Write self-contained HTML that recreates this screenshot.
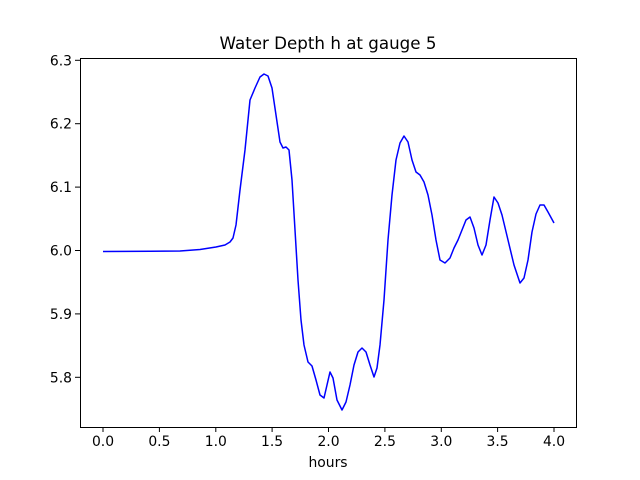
<!DOCTYPE html>
<html><head><meta charset="utf-8"><style>body{margin:0;background:#fff}svg{display:block}text{font-family:"DejaVu Sans","Liberation Sans",sans-serif;fill:#000}</style></head>
<body>
<svg width="640" height="480" viewBox="0 0 640 480" xmlns="http://www.w3.org/2000/svg">
<rect width="640" height="480" fill="#fff"/>
<polyline fill="none" stroke="#0000ff" stroke-width="1.5" stroke-linejoin="round" points="103,251.5 150,251.3 180,251 200,249.5 216,247 225,245 230,242 233,238 236,225 240,190 245,150 250,100 255,88 260,77 264,74 268,76 272,88 276,115 280,142 283,148 286,147 289,150 292,180 295,230 298,280 301,320 304,345 308,362 312,366 316,380 320,395 324,398 327,385 330,372 333,378 337,400 342,410 346,402 350,385 354,365 358,352 362,348 366,352 370,365 374,377 377,368 380,345 384,300 388,240 392,195 396,160 400,143 404,136 408,142 412,160 416,172 420,175 424,182 428,195 432,215 436,240 440,260 445,263 450,258 454,248 458,240 462,230 466,220 470,217 474,228 478,245 482,255 486,245 490,220 494,197 498,203 502,215 508,240 514,265 520,283 524,278 528,260 532,232 536,214 540,205 544,205 548,212 554,223"/>
<rect x="80.5" y="58.5" width="496" height="369" fill="none" stroke="#000" stroke-width="1"/>
<g stroke="#000" stroke-width="1">
<line x1="103" y1="427" x2="103" y2="432"/><line x1="159.4" y1="427" x2="159.4" y2="432"/><line x1="215.8" y1="427" x2="215.8" y2="432"/><line x1="272.1" y1="427" x2="272.1" y2="432"/><line x1="328.5" y1="427" x2="328.5" y2="432"/><line x1="384.9" y1="427" x2="384.9" y2="432"/><line x1="441.3" y1="427" x2="441.3" y2="432"/><line x1="497.6" y1="427" x2="497.6" y2="432"/><line x1="554" y1="427" x2="554" y2="432"/>
<line x1="75" y1="60.3" x2="80" y2="60.3"/><line x1="75" y1="123.7" x2="80" y2="123.7"/><line x1="75" y1="187.1" x2="80" y2="187.1"/><line x1="75" y1="250.5" x2="80" y2="250.5"/><line x1="75" y1="313.9" x2="80" y2="313.9"/><line x1="75" y1="377.3" x2="80" y2="377.3"/>
</g>
<g font-size="13.9" text-anchor="middle">
<text x="103" y="446">0.0</text><text x="159.4" y="446">0.5</text><text x="215.8" y="446">1.0</text><text x="272.1" y="446">1.5</text><text x="328.5" y="446">2.0</text><text x="384.9" y="446">2.5</text><text x="441.3" y="446">3.0</text><text x="497.6" y="446">3.5</text><text x="554" y="446">4.0</text>
<text x="328" y="467">hours</text>
</g>
<g font-size="13.9" text-anchor="end">
<text x="72" y="65.3">6.3</text><text x="72" y="128.7">6.2</text><text x="72" y="192.1">6.1</text><text x="72" y="255.5">6.0</text><text x="72" y="318.9">5.9</text><text x="72" y="382.3">5.8</text>
</g>
<text x="328" y="49" font-size="16.7" text-anchor="middle">Water Depth h at gauge 5</text>
</svg>
</body></html>
